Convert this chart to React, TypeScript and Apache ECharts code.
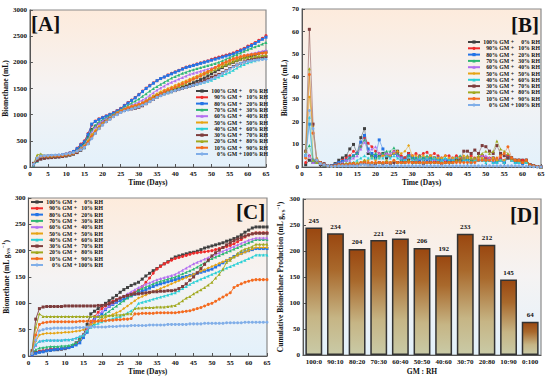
import React, { useEffect, useRef } from "react";
import * as echarts from "echarts";

const SERIES_NAMES = [
  "100% GM + 0% RH", "90% GM + 10% RH", "80% GM + 20% RH", "70% GM + 30% RH",
  "60% GM + 40% RH", "50% GM + 50% RH", "40% GM + 60% RH", "30% GM + 70% RH",
  "20% GM + 80% RH", "10% GM + 90% RH", "0% GM + 100% RH",
];
const GM_PARTS = ["100% GM +", "90% GM +", "80% GM +", "70% GM +", "60% GM +", "50% GM +", "40% GM +", "30% GM +", "20% GM +", "10% GM +", "0% GM +"];
const RH_PARTS = ["0% RH", "10% RH", "20% RH", "30% RH", "40% RH", "50% RH", "60% RH", "70% RH", "80% RH", "90% RH", "100% RH"];
const COLORS = ["#404040", "#ee2b2b", "#2474e6", "#2bb673", "#b36ef0", "#e6a414", "#29d0d6", "#7d3c3c", "#a0a81e", "#f46a1e", "#80aee8"];
const SYMBOLS = ["rect", "circle", "rect", "triangle", "triangle", "diamond", "triangle", "rect", "triangle", "circle", "circle"];

// Panel A: cumulative biomethane (mL), days 1..65
const A_100_0 = [70,160,200,205,210,212,215,218,225,235, 250,280,330,400,460,580,720,780,830,870, 910,960,1000,1040,1070,1100,1120,1140,1160,1190, 1220,1260,1300,1340,1370,1400,1430,1450,1470,1490, 1510,1530,1550,1580,1610,1640,1670,1700,1740,1780, 1820,1860,1900,1940,1970,2000,2030,2060,2090,2110, 2130,2150,2170,2190,2200];
const A_90_10 = [60,150,190,200,210,215,220,225,235,250, 270,300,360,440,500,640,800,880,920,950, 980,1010,1040,1080,1120,1180,1230,1280,1330,1390, 1450,1510,1560,1610,1650,1690,1720,1760,1790,1820, 1850,1880,1910,1930,1950,1970,1990,2010,2030,2060, 2080,2100,2120,2140,2160,2180,2210,2240,2270,2310, 2340,2380,2420,2460,2510];
const A_80_20 = [50,140,180,195,205,210,215,220,230,245, 265,295,350,420,480,620,820,870,910,940, 970,1000,1030,1070,1110,1170,1220,1270,1320,1380, 1440,1500,1550,1600,1650,1690,1720,1750,1780,1810, 1840,1870,1900,1920,1940,1960,1980,2000,2020,2040, 2060,2080,2100,2120,2140,2160,2190,2220,2250,2290, 2320,2360,2400,2440,2480];
const A_70_30 = [40,120,170,185,195,200,205,210,220,235, 250,275,320,380,440,560,700,800,860,900, 940,980,1010,1050,1090,1140,1180,1220,1260,1300, 1350,1400,1450,1500,1540,1580,1620,1660,1700,1730, 1760,1790,1810,1840,1860,1880,1900,1920,1940,1960, 1980,2000,2030,2060,2090,2120,2150,2180,2210,2240, 2270,2300,2320,2350,2380];
const A_60_40 = [45,130,175,185,190,195,200,205,215,230, 245,270,310,370,420,520,660,760,830,880, 920,960,1000,1040,1080,1120,1150,1180,1210,1240, 1280,1320,1370,1420,1470,1510,1550,1590,1620,1650, 1680,1710,1740,1770,1790,1810,1830,1850,1870,1890, 1910,1940,1970,2000,2030,2060,2090,2110,2130,2150, 2170,2180,2200,2210,2230];
const A_50_50 = [50,150,190,195,200,205,208,212,220,232, 245,265,300,350,400,500,620,700,780,840, 890,940,990,1040,1080,1110,1140,1160,1180,1200, 1230,1270,1310,1360,1400,1440,1470,1500,1530,1560, 1590,1620,1650,1680,1710,1740,1770,1800,1830,1860, 1890,1920,1950,1980,2010,2040,2070,2090,2110,2130, 2150,2160,2170,2180,2190];
const A_40_60 = [30,110,160,170,180,185,190,195,205,215, 230,250,280,320,370,460,570,660,750,820, 880,930,980,1020,1060,1090,1110,1130,1150,1170, 1200,1240,1280,1320,1350,1380,1400,1420,1440,1460, 1480,1500,1520,1540,1560,1580,1600,1620,1640,1660, 1690,1720,1750,1780,1810,1850,1890,1930,1960,1990, 2010,2030,2050,2070,2080];
const A_30_70 = [40,120,150,165,175,180,185,190,200,210, 225,245,275,320,370,450,560,650,740,810, 870,920,970,1010,1050,1080,1100,1110,1120,1140, 1170,1210,1250,1290,1330,1370,1400,1420,1440,1460, 1480,1500,1520,1540,1560,1590,1620,1650,1680,1710, 1740,1770,1800,1840,1880,1920,1950,1980,2010,2040, 2060,2080,2090,2100,2110];
const A_20_80 = [60,230,250,215,210,212,215,218,225,235, 248,268,300,345,395,480,590,680,760,830, 880,930,980,1030,1070,1100,1120,1140,1160,1180, 1210,1240,1270,1310,1350,1390,1420,1450,1480,1510, 1540,1570,1600,1640,1680,1710,1740,1770,1800,1830, 1860,1890,1920,1950,1980,2010,2040,2060,2080,2090, 2100,2110,2120,2130,2140];
const A_10_90 = [55,170,200,205,208,210,213,216,222,232, 245,262,295,340,390,470,580,670,750,820, 870,920,970,1020,1060,1100,1130,1150,1170,1190, 1220,1250,1280,1320,1360,1400,1440,1470,1500,1530, 1560,1590,1620,1650,1680,1710,1740,1780,1820,1860, 1900,1940,1980,2010,2040,2070,2090,2110,2130,2140, 2150,2160,2170,2175,2180];
const A_0_100 = [50,170,210,215,220,225,228,232,238,248, 260,275,300,330,370,440,540,640,730,800, 860,910,960,1000,1040,1070,1090,1110,1130,1150, 1180,1210,1250,1290,1330,1360,1390,1420,1440,1460, 1480,1500,1520,1540,1560,1580,1600,1620,1650,1680, 1710,1750,1790,1830,1870,1910,1950,1980,2000,2020, 2030,2040,2050,2055,2060];

// Panel B: daily biomethane (mL)
const B_100_0 = [1,3,2,2,1,0.5,0.3,0.5,1.5,3, 4,5,8,10,6,13,17,6,5,4, 5,6,4,5,6,7,3,4,6,4, 3,4,3,4,3,4,3,3,3,3, 3,4,3,3,4,3,3,4,5,4, 3,4,3,3,2,5,4,3,3,3, 3,1,0.5,0.2,0];
const B_90_10 = [2,5,3,2,1.5,1,0.5,0.5,1,2, 3,4,5,7,6,9,13,10.5,9,7, 6,5,6,5,7,6,5,4,6,5, 6,5,6,6.5,5,6,5,4,5,5, 4,5,4,4,4,5,4,4,5,4, 4,4,3,4,3,5,4,3,3,3, 3,1,0.5,0.2,0];
const B_80_20 = [5,19,3,2.5,2,1,0.5,0.5,1,2, 2.5,3,4,5,6,11,14,8,6,5, 12,8,5,5,6,5,4,3,5,4, 4,3,4,3,4,3,4,3,3,3, 3,3,3,3,3,2,3,3,3,3, 3,2,2,3,2,4,3,2,2,1.5, 2,1,0.5,0.2,0];
const B_70_30 = [7,9.5,3,2,2,1,0.5,0.5,1,1.5, 2,3,4,5,6,9,12,7,5,6, 5,6,7,7,8.5,6,4,3,5,4, 4,5,4,5,4,4,3,4,4,3, 4,4,5,4,4,3,3,4,4,3, 3,4,3,3,3,4,3,3,2,2, 2,1,0.5,0.2,0];
const B_60_40 = [7.5,5,2,2,1.5,1,0.5,0.3,1,1.5, 2,3,3,4,5,8,11,7,8,9, 6,5,6,6,7,5,4,3,4,3, 3,4,3,4,3,3,3,3,3,4, 4,3,4,4,5,4,3,4,5,5, 4,3,4,3,3,4,3,3,2,2, 2,1,0.5,0.2,0];
const B_50_50 = [4,31,18,4,2,1,0.5,0.3,0.5,1, 1,1.5,1.5,1,1,2,3,3,4,3, 4,5,5,5,6,7,6,7,9.5,5, 5,4,5,4,5,4,4,4,5,4, 4,4,4,5,4,4,3,4,4,3, 3,4,3,3,3,4,3,3,2,2, 2,1,0.5,0.2,0];
const B_40_60 = [6,22,3,2,2,1,0.5,0.3,0.5,1, 1,1.5,2,2,3,4,5,4,4,4, 4,4,5,4,5,4,3,3,4,3, 3,4,3,4,3,4,3,3,4,3, 3,4,3,3,3,2,3,3,3,2, 3,2,2,3,2,4,3,2,2,2, 2,1,0.5,0.2,0];
const B_30_70 = [7,61,19,3,2,1.5,0.5,0.3,0.5,1, 1,1,1,1.5,1,1.5,2,1,1,1.5, 2,1.5,2,1.5,2,2,2,2,3,2, 2,2,1.5,2,2,2,2,1.5,2,2, 2,3,3,7,7,6,7.5,6,9.5,9, 7,6,9.5,6,5,4,4,3,3,2, 3,1,0.5,0.2,0];
const B_20_80 = [7,43.5,3,2,2,1,0.5,0.3,0.5,1, 1,1.5,1.5,2,2,2,3,2,2,2, 2,2,3,2,3,2,2,2,3,2, 2,2,2,2,2,2,2,2,2,2, 2,3,3,4,5,4,4,5,6,7, 6,7,11.5,8,7,6,4,3,3,2, 3,1,0.5,0.2,0];
const B_10_90 = [4,41,15,3,2,1,0.5,0.3,0.5,1, 1,1,1.5,1.5,1,2,2,2,2,2, 2,2,2,2,3,2,2,2,2,2, 2,2,2,2,2,2,2,1.5,2,2, 2,2,2,2,2,2,2,3,3,3, 3,3,4,5,6,9,4,3,3,2, 3,1,0.5,0.2,0];
const B_0_100 = [5,25,17,3,1.5,1,0.5,0.2,0.3,0.5, 0.5,0.5,0.5,0.5,0.5,1,1,0.8,0.8,0.5, 0.5,0.5,0.5,0.5,0.5,0.5,0.5,0.5,0.5,0.5, 0.5,0.5,0.5,0.5,0.5,0.5,0.5,0.5,0.5,0.5, 0.5,0.5,0.5,0.5,0.5,0.5,0.5,0.5,0.5,0.5, 0.5,0.5,0.5,0.5,0.5,0.5,0.5,0.5,0.5,0.3, 0.3,0.2,0.1,0,0];

// Panel C: cumulative biomethane (mL/gVS)
const C_100_0 = [5,7,8,9,10,11,12,12,13,14, 16,19,25,32,40,60,80,85,90,95, 100,105,110,115,121,126,130,134,137,140, 146,152,157,162,166,171,175,179,184,188, 190,192,194,196,197,199,202,205,207,209, 211,213,215,218,220,223,226,230,235,239, 243,245,245,245,245];
const C_90_10 = [2,6,9,10,12,13,13,14,14,15, 17,19,23,30,40,50,62,75,83,90, 95,100,104,107,110,113,116,119,122,125, 132,140,148,157,165,170,175,178,182,185, 187,189,191,193,195,196,197,198,199,200, 202,204,206,208,210,213,217,221,226,230, 232,234,234,234,234];
const C_80_20 = [2,5,7,8,10,11,12,13,14,15, 16,18,21,25,35,45,58,70,75,80, 88,94,98,102,105,108,111,114,117,120, 123,126,129,132,135,137,139,141,143,145, 147,149,151,153,155,157,159,161,163,165, 169,173,177,181,185,189,192,195,198,200, 202,204,204,204,204];
const C_70_30 = [5,12,15,16,17,18,18,18,19,19, 20,22,25,32,40,48,55,62,68,75, 80,85,90,95,100,105,110,115,120,125, 128,131,134,137,140,142,144,146,148,150, 153,156,159,162,165,169,173,177,181,185, 188,191,194,197,200,203,206,209,212,215, 218,221,221,221,221];
const C_60_40 = [8,20,28,29,30,30,30,30,30,31, 31,32,34,37,40,50,60,70,78,85, 90,95,100,105,110,114,118,122,126,130, 133,136,139,142,145,147,149,151,153,155, 159,163,167,171,175,178,181,184,187,190, 193,196,199,202,205,208,211,214,217,220, 222,224,224,224,224];
const C_50_50 = [8,28,40,42,43,43,43,44,44,45, 45,46,47,48,50,55,60,63,67,70, 73,76,79,82,85,90,95,100,105,110, 113,116,119,122,125,128,131,134,137,140, 143,146,149,152,155,158,161,164,167,170, 173,176,179,182,185,188,191,194,197,200, 203,206,206,206,206];
const C_40_60 = [8,22,28,29,30,30,30,30,30,31, 31,32,34,37,40,48,55,58,62,65, 67,69,71,73,75,78,82,86,90,100, 102,104,106,108,110,112,114,116,118,120, 124,128,132,136,140,143,146,149,152,155, 158,161,164,167,170,173,176,179,182,185, 188,192,192,192,192];
const C_30_70 = [10,70,90,93,94,94,94,94,94,95, 95,95,95,95,95,95,95,95,96,96, 97,99,102,106,110,113,115,117,118,118, 119,120,121,122,122,123,123,124,124,125, 128,132,137,144,150,158,166,174,182,190, 196,201,206,211,215,219,222,225,228,230, 232,233,233,233,233];
const C_20_80 = [8,55,80,75,75,75,75,75,75,75, 75,75,75,75,75,75,75,75,75,76, 76,77,77,78,78,79,80,80,90,91, 91,92,92,92,93,93,93,94,95,96, 100,105,110,113,118,122,126,130,135,140, 148,155,165,178,182,188,195,200,203,205, 208,212,212,212,212];
const C_10_90 = [5,40,60,63,64,65,65,65,65,65, 65,65,65,66,66,66,66,66,66,67, 67,68,68,69,69,70,70,71,80,80, 81,81,81,81,82,82,82,82,82,82, 83,84,85,86,88,90,92,95,98,100, 104,108,112,116,120,130,134,137,140,142, 144,145,145,145,145];
const C_0_100 = [5,30,48,50,52,52,53,53,53,53, 53,53,54,54,54,55,55,55,55,55, 55,56,56,56,57,57,57,58,58,58, 58,58,59,59,59,59,59,60,60,60, 60,60,60,61,61,61,61,62,62,62, 62,62,62,63,63,63,63,63,64,64, 64,64,64,64,64];

// Panel D: cumulative production
const D_CATEGORIES = ["100:0", "90:10", "80:20", "70:30", "60:40", "50:50", "40:60", "30:70", "20:80", "10:90", "0:100"];
const D_VALUES = [245, 234, 204, 221, 224, 206, 192, 233, 212, 145, 64];

const A_DATA = [A_100_0, A_90_10, A_80_20, A_70_30, A_60_40, A_50_50, A_40_60, A_30_70, A_20_80, A_10_90, A_0_100];
const B_DATA = [B_100_0, B_90_10, B_80_20, B_70_30, B_60_40, B_50_50, B_40_60, B_30_70, B_20_80, B_10_90, B_0_100];
const C_DATA = [C_100_0, C_90_10, C_80_20, C_70_30, C_60_40, C_50_50, C_40_60, C_30_70, C_20_80, C_10_90, C_0_100];

const FONT = "Liberation Serif";

export default function App() {
  const ref = useRef<HTMLDivElement>(null);
  useEffect(() => {
    if (!ref.current) return;
    const chart = echarts.init(ref.current, null, { renderer: "svg" });
    const bg = () =>
      new echarts.graphic.LinearGradient(0, 0, 0, 1, [
        { offset: 0, color: "#fdebdc" },
        { offset: 0.5, color: "#f5f3f3" },
        { offset: 1, color: "#e3f1fb" },
      ]);
    const grids = [
      { left: 28, top: 10, width: 238, height: 157 },
      { left: 302, top: 9, width: 239, height: 158 },
      { left: 28, top: 198, width: 239, height: 158 },
      { left: 303, top: 199, width: 238, height: 156 },
    ].map((g) => ({ ...g, show: true, backgroundColor: bg(), borderColor: "#8a8a8a", borderWidth: 1.2 }));

    const lbl = { fontFamily: FONT, fontWeight: "bold", fontSize: 7, color: "#111", margin: 3, formatter: (v: any) => String(v) };
    const nameStyle = { fontFamily: FONT, fontWeight: "bold", fontSize: 7.5, color: "#111" };
    const axisLine = { show: true, lineStyle: { color: "#555", width: 1 } };
    const tick = { show: true, inside: true, length: 3, lineStyle: { color: "#555" } };

    const timeX = (gi: number) => ({
      type: "value", gridIndex: gi, min: 0, max: 65, interval: 5,
      name: "Time (Days)", nameLocation: "middle", nameGap: 11, nameTextStyle: nameStyle,
      axisLabel: lbl, axisLine, axisTick: tick, splitLine: { show: false },
    });
    const valY = (gi: number, max: number, interval: number, name: any, gap: number, rich?: any) => ({
      type: "value", gridIndex: gi, min: 0, max, interval,
      name, nameLocation: "middle", nameGap: gap,
      nameTextStyle: { ...nameStyle, rich },
      axisLabel: lbl, axisLine, axisTick: tick, splitLine: { show: false },
    });

    const vsRich = {
      t: { fontFamily: FONT, fontWeight: "bold", fontSize: 7.5, color: "#111", lineHeight: 10 },
      s: { fontFamily: FONT, fontWeight: "bold", fontSize: 5, color: "#111", verticalAlign: "bottom", lineHeight: 10 },
      p: { fontFamily: FONT, fontWeight: "bold", fontSize: 5, color: "#111", verticalAlign: "top", lineHeight: 10 },
    };

    const richLegend = {
      a: { fontFamily: FONT, fontWeight: "bold", fontSize: 5.8, color: "#111", width: 31, align: "right", lineHeight: 7 },
      b: { fontFamily: FONT, fontWeight: "bold", fontSize: 5.8, color: "#111", width: 26, align: "right", lineHeight: 7 },
    };
    const legend = (left: number, top: number) => ({
      orient: "vertical", left, top, padding: 0, itemGap: 0.3, itemWidth: 12, itemHeight: 4,
      data: SERIES_NAMES,
      formatter: (name: string) => {
        const i = SERIES_NAMES.indexOf(name);
        return `{a|${GM_PARTS[i]}}{b|${RH_PARTS[i]}}`;
      },
      textStyle: { color: "#111", rich: richLegend, padding: [0, 0, 0, -2] },
    });

    const lineSeries = (data: number[][], gi: number, opacity: number) =>
      data.map((arr, si) => ({
        type: "line", name: SERIES_NAMES[si], xAxisIndex: gi, yAxisIndex: gi,
        data: arr.map((v, i) => [i + 1, v]),
        symbol: SYMBOLS[si], symbolSize: 3, showSymbol: true,
        lineStyle: { width: 0.9, color: COLORS[si], opacity },
        itemStyle: { color: COLORS[si] },
        z: 2 + si,
      }));

    const barGradient = new echarts.graphic.LinearGradient(0, 0, 0, 1, [
      { offset: 0, color: "#9a4710" },
      { offset: 0.3, color: "#a9692c" },
      { offset: 0.7, color: "#c6b585" },
      { offset: 1, color: "#c9caa6" },
    ]);

    const option: any = {
      animation: false,
      grid: grids,
      xAxis: [
        timeX(0), timeX(1), timeX(2),
        {
          type: "category", gridIndex: 3, data: D_CATEGORIES,
          name: "GM : RH", nameLocation: "middle", nameGap: 12, nameTextStyle: nameStyle,
          axisLabel: { ...lbl, interval: 0 }, axisLine, axisTick: { show: false },
        },
      ],
      yAxis: [
        valY(0, 3000, 500, "Biomethane (mL)", 18),
        valY(1, 70, 10, "Biomethane (mL)", 13),
        valY(2, 300, 50, "{t|Biomethane (mL g}{s|VS}{p|−1}{t|)}", 16, vsRich),
        valY(3, 300, 50, "{t|Cumulative Biomethane Production (mL g}{s|VS}{p|−1}{t|)}", 16, vsRich),
      ],
      legend: [legend(195, 88), legend(467, 39), legend(30, 199)],
      series: [
        ...lineSeries(A_DATA, 0, 1),
        ...lineSeries(B_DATA, 1, 0.55),
        ...lineSeries(C_DATA, 2, 1),
        {
          type: "bar", xAxisIndex: 3, yAxisIndex: 3, data: D_VALUES, barWidth: "78%",
          itemStyle: { color: barGradient, borderColor: "#333", borderWidth: 1.5 },
          label: { show: true, position: "top", distance: 3, fontFamily: FONT, fontWeight: "bold", fontSize: 7, color: "#111" },
        },
      ],
      graphic: [
        { type: "text", left: 31, top: 13, style: { text: "[A]", fontFamily: FONT, fontWeight: "bold", fontSize: 21, fill: "#111" } },
        { type: "text", left: 511, top: 14, style: { text: "[B]", fontFamily: FONT, fontWeight: "bold", fontSize: 21, fill: "#111" } },
        { type: "text", left: 236, top: 201, style: { text: "[C]", fontFamily: FONT, fontWeight: "bold", fontSize: 21, fill: "#111" } },
        { type: "text", left: 510, top: 204, style: { text: "[D]", fontFamily: FONT, fontWeight: "bold", fontSize: 21, fill: "#111" } },
      ],
    };
    chart.setOption(option);
    return () => chart.dispose();
  }, []);
  return <div ref={ref} style={{ position: "fixed", left: 0, top: 0, width: 550, height: 378, background: "#fff" }} />;
}
